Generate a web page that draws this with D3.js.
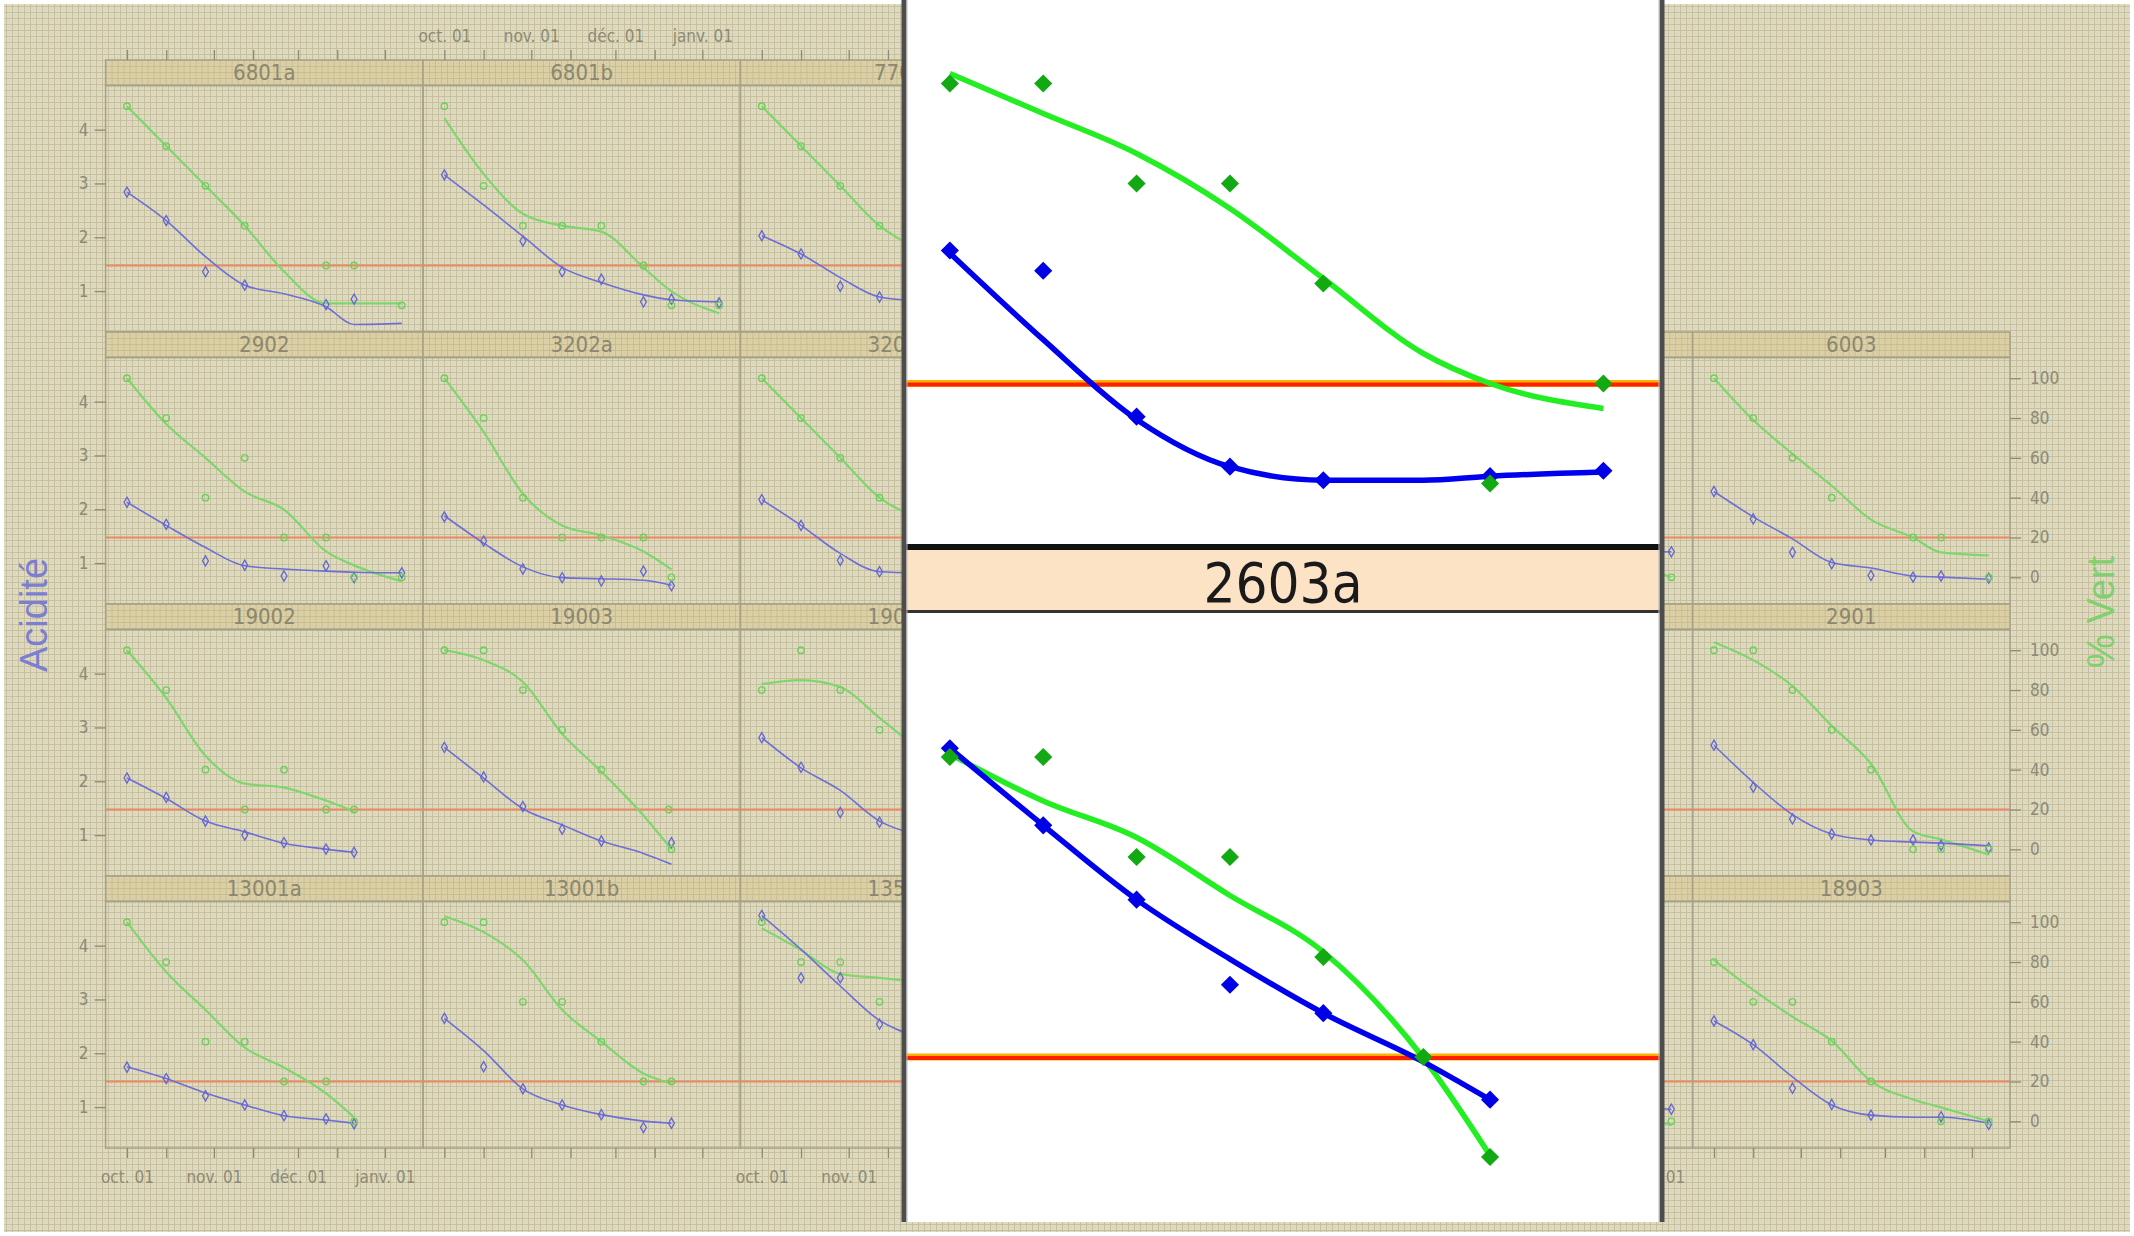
<!DOCTYPE html>
<html lang="fr">
<head>
<meta charset="UTF-8">
<title>Acidité et % Vert par parcelle</title>
<script src="https://d3js.org/d3.v7.min.js"></script>
<style>
  body { margin: 0; background: #fff; }
  svg { display: block; }
  .narrow { font-family: "Liberation Sans Narrow", "Arial Narrow", "DejaVu Sans Condensed", sans-serif; }
</style>
</head>
<body>
<div id="chart"></div>
<script>
// ----- Data -----
const _ = null;
// sampling dates (index shared by every series below)
const sampleDates = ["2001-10-01", "2001-10-15", "2001-10-29", "2001-11-12", "2001-11-26",
                     "2001-12-11", "2001-12-20", "2001-12-21", "2002-01-07"];

// lattice layout, top row first (null = empty cell)
const panelGrid = [
  ["6801a", "6801b", "7701", "7702", _, _],
  ["2902", "3202a", "3202b", "2602", "5901", "6003"],
  ["19002", "19003", "19004", "2603a", "5902", "2901"],
  ["13001a", "13001b", "13502", "2603b", "5903", "18903"]
];

// % vert observed (green)
const vertPoints = {
  "6801a": [100, 80, 60, 40, _, 20, _, 20, 0],
  "6801b": [100, 60, 40, 40, 40, 20, _, 0, 0],
  "7701": [100, 80, 60, 40],
  "2902": [100, 80, 40, 60, 20, 20, _, 0, 0],
  "3202a": [100, 80, 40, 20, 20, 20, _, 0],
  "3202b": [100, 80, 60, 40],
  "2602": [80, 80, 60, 60, 40, _, _, 0, 20],
  "5901": [_, _, _, _, _, _, _, _, 0],
  "6003": [100, 80, 60, 40, _, 20, _, 20, 0],
  "19002": [100, 80, 40, 20, 40, 20, _, 20],
  "19003": [100, 100, 80, 60, 40, _, 20, 0],
  "19004": [80, 100, 80, 60],
  "2603a": [80, 80, 60, 60, 40, 20, _, 0],
  "2901": [100, 100, 80, 60, 40, 0, _, 0, 0],
  "13001a": [100, 80, 40, 40, 20, 20, _, 0],
  "13001b": [100, 100, 60, 60, 40, 20, _, 20],
  "13502": [100, 80, 80, 60],
  "5903": [_, _, _, _, _, _, _, _, 0],
  "18903": [80, 60, 60, 40, 20, _, _, 0, 0]
};

// % vert smoothed
const vertFit = {
  "6801a": [100, 80, 60, 40, 17, 1, _, 1, 1],
  "6801b": [94, 66, 46, 40, 37, 19, _, 7, -4],
  "7701": [100, 80, 60, 40, 28],
  "2902": [100, 77, 60, 43, 34, 13, _, 6, -2],
  "3202a": [100, 73, 42, 26, 21, 13, _, 4],
  "3202b": [100, 80, 60, 40, 30],
  "2602": [82, 74, 66, 55, 41, 26, _, 20, 15],
  "5901": [_, _, _, _, _, _, _, 8, 0],
  "6003": [100, 79, 62, 46, 29, 20, _, 12.5, 11],
  "19002": [100, 76, 47, 33, 31, 24.5, _, 19],
  "19003": [100, 95, 84, 58, 39, 17, _, 0],
  "19004": [83, 85, 81.5, 66, 50],
  "2603a": [80.6, 71.2, 63.9, 52.3, 41, 19.8, _, 0.3],
  "2901": [104, 95, 82, 62, 43, 9, _, 5, -2.7],
  "13001a": [100, 75, 56, 37, 27, 14, _, 2],
  "13001b": [103, 95, 81, 56, 40, 24, _, 19],
  "13502": [97, 86, 74, 72, 70],
  "5903": [_, _, _, _, _, _, _, 5, -2],
  "18903": [81, 66, 52.5, 40.4, 20.2, 11, _, 7, 0]
};

// acidité observed (blue)
const acidPoints = {
  "6801a": [2.84, 2.31, 1.36, 1.11, _, 0.75, _, 0.85],
  "6801b": [3.16, _, 1.93, 1.36, 1.22, 0.80, _, 0.85, 0.78],
  "7701": [2.03, 1.69, 1.09, 0.89],
  "2902": [2.13, 1.72, 1.04, 0.96, 0.76, 0.95, _, 0.73, 0.82],
  "3202a": [1.86, 1.41, 0.89, 0.73, 0.67, 0.85, _, 0.58],
  "3202b": [2.18, 1.70, 1.05, 0.84],
  "2602": [2.46, 2.31, 1.23, 0.86, 0.76, _, _, 0.79, 0.83],
  "5901": [_, _, _, _, _, _, _, _, 1.21],
  "6003": [2.33, 1.82, 1.20, 0.99, 0.77, 0.74, _, 0.76, 0.72],
  "19002": [2.06, 1.70, 1.26, 1.00, 0.86, 0.74, _, 0.68],
  "19003": [2.63, 2.08, 1.53, 1.11, 0.89, _, _, 0.86],
  "19004": [2.81, 2.26, 1.42, 1.24],
  "2603a": [3.76, 3.19, 2.64, 2.01, 1.80, _, _, 1.16],
  "2901": [2.67, 1.89, 1.30, 1.02, 0.91, 0.91, _, 0.81, 0.76],
  "13001a": [1.74, 1.53, 1.21, 1.04, 0.84, 0.78, _, 0.69],
  "13001b": [2.65, 1.75, 1.34, 1.04, 0.86, 0.62, _, 0.70],
  "13502": [4.56, 3.40, 3.40, 2.54],
  "5903": [_, _, _, _, _, _, _, _, 0.96],
  "18903": [2.60, 2.16, 1.35, 1.05, 0.85, _, _, 0.82, 0.68]
};

// acidité smoothed
const acidFit = {
  "6801a": [2.84, 2.31, 1.64, 1.11, 0.95, 0.71, _, 0.38, 0.40],
  "6801b": [3.16, 2.60, 2.02, 1.44, 1.16, 0.93, _, 0.84, 0.80],
  "7701": [2.03, 1.69, 1.25, 0.89, 0.82],
  "2902": [2.13, 1.70, 1.29, 0.95, 0.89, 0.85, _, 0.83, 0.82],
  "3202a": [1.88, 1.37, 0.93, 0.73, 0.71, 0.68, _, 0.59],
  "3202b": [2.18, 1.70, 1.18, 0.84, 0.82],
  "2602": [2.44, 1.80, 1.21, 0.86, 0.76, 0.76, _, 0.79, 0.82],
  "5901": [_, _, _, _, _, _, _, 1.20, 1.21],
  "6003": [2.33, 1.86, 1.45, 1.01, 0.91, 0.76, _, 0.74, 0.70],
  "19002": [2.06, 1.68, 1.26, 1.06, 0.85, 0.74, _, 0.68],
  "19003": [2.63, 2.06, 1.49, 1.19, 0.89, 0.66, _, 0.46],
  "19004": [2.81, 2.25, 1.83, 1.26, 1.00],
  "2603a": [3.76, 3.19, 2.64, 2.20, 1.80, 1.44, _, 1.16],
  "2901": [2.67, 1.98, 1.38, 1.02, 0.91, 0.87, _, 0.85, 0.80],
  "13001a": [1.75, 1.53, 1.26, 1.04, 0.84, 0.76, _, 0.70],
  "13001b": [2.65, 2.05, 1.34, 1.04, 0.86, 0.74, _, 0.70],
  "13502": [4.56, 3.93, 3.25, 2.61, 2.30],
  "5903": [_, _, _, _, _, _, _, 1.00, 0.96],
  "18903": [2.60, 2.16, 1.56, 1.04, 0.85, 0.81, _, 0.81, 0.70]
};

const seuilVert = 20;
const acidTicks = [1, 2, 3, 4];
const vertTicks = [0, 20, 40, 60, 80, 100];
const tickDates = ["2001-10-01", "2001-10-15", "2001-11-01", "2001-11-15", "2001-12-01", "2001-12-15", "2002-01-01"];
const tickLabels = ["oct. 01", "", "nov. 01", "", "déc. 01", "", "janv. 01"];
const zoomPanels = ["2602", "2603a"]; // panels shown in the magnifier

// ----- Setup -----
const W = 2134, H = 1236;
const colLeft = 105.6, colW = 317.4, rowTop = 60, rowH = 272, stripH = 25.5;
const plotH = rowH - stripH;
const axisCol = "#8e8a76", borderCol = "#a7a186";
const magL = 904, magR = 1662, magB = 1222;

const parse = d3.timeParse("%Y-%m-%d");
const dates = sampleDates.map(parse);
const tDates = tickDates.map(parse);
const xDomain = [new Date(2001, 8, 23, 9), new Date(2002, 0, 14, 14)];

const svg = d3.select("#chart").append("svg").attr("width", W).attr("height", H);
const defs = svg.append("defs");

function texture(id, base, line) {
  const p = defs.append("pattern").attr("id", id).attr("patternUnits", "userSpaceOnUse")
    .attr("width", 6).attr("height", 6);
  p.append("rect").attr("width", 6).attr("height", 6).attr("fill", base);
  p.append("path").attr("d", "M0,0.5H6M0.5,0V6").attr("stroke", line).attr("stroke-width", 1);
  p.append("rect").attr("x", 3).attr("y", 3).attr("width", 1).attr("height", 1).attr("fill", line).attr("opacity", 0.6);
}
texture("bgTex", "#dfdbc3", "#c6c09d");
texture("stripTex", "#dcd0a7", "#c8bc91");

svg.append("rect").attr("x", 4).attr("y", 4).attr("width", W - 8).attr("height", H - 8)
  .attr("fill", "url(#bgTex)");

function series(name, dict) {
  const vals = dict[name] || [];
  return dates.map((d, i) => ({ date: d, v: vals[i] })).filter(p => p.v != null);
}

// ----- Small panels -----
const x = d3.scaleTime().domain(xDomain).range([0, colW]);
const vertY = d3.scaleLinear().domain([-13.4, 110.4]).range([plotH, 0]);
const acidY = d3.scaleLinear().domain([0.24, 4.82]).range([plotH, 0]);

panelGrid.forEach((row, r) => {
  row.forEach((name, c) => {
    if (!name) return;
    const x0 = colLeft + c * colW;
    const g = svg.append("g").attr("transform", `translate(${x0},${rowTop + r * rowH})`);
    g.append("rect").attr("width", colW).attr("height", stripH)
      .attr("fill", "url(#stripTex)").attr("stroke", borderCol).attr("stroke-width", 1.5);
    // strip labels lying entirely under the magnifier are not drawn
    const cx = x0 + colW / 2;
    if (!(cx - 40 > magL && cx + 40 < magR)) {
      g.append("text").attr("class", "narrow").attr("x", colW / 2).attr("y", stripH / 2 + 7.5)
        .attr("text-anchor", "middle").attr("font-size", 22).attr("fill", "#8b8770").text(name);
    }

    const clipId = `clip-${r}-${c}`;
    defs.append("clipPath").attr("id", clipId).append("rect").attr("width", colW).attr("height", plotH);
    const p = g.append("g").attr("transform", `translate(0,${stripH})`).attr("clip-path", `url(#${clipId})`);

    p.append("line").attr("x1", 0).attr("x2", colW)
      .attr("y1", vertY(seuilVert)).attr("y2", vertY(seuilVert))
      .attr("stroke", "#e98a62").attr("stroke-width", 2);

    const gLine = d3.line().x(d => x(d.date)).y(d => vertY(d.v)).curve(d3.curveMonotoneX);
    const aLine = d3.line().x(d => x(d.date)).y(d => acidY(d.v)).curve(d3.curveMonotoneX);

    p.append("path").datum(series(name, vertFit)).attr("d", gLine)
      .attr("fill", "none").attr("stroke", "#7fd66d").attr("stroke-width", 2.2);
    p.append("path").datum(series(name, acidFit)).attr("d", aLine)
      .attr("fill", "none").attr("stroke", "#6d6ed6").attr("stroke-width", 1.6);

    p.selectAll(".pa").data(series(name, acidPoints)).join("path")
      .attr("transform", d => `translate(${x(d.date)},${acidY(d.v)})`)
      .attr("d", d3.symbol(d3.symbolDiamond, 30))
      .attr("fill", "none").attr("stroke", "#6466d4").attr("stroke-width", 1.3);
    p.selectAll(".pv").data(series(name, vertPoints)).join("circle")
      .attr("cx", d => x(d.date)).attr("cy", d => vertY(d.v)).attr("r", 3.2)
      .attr("fill", "none").attr("stroke", "#6fcf5e").attr("stroke-width", 1.4);

    g.append("rect").attr("y", stripH).attr("width", colW).attr("height", plotH)
      .attr("fill", "none").attr("stroke", borderCol).attr("stroke-width", 1.5);
  });
});

// ----- Axes -----
function styleAxis(sel) {
  sel.select(".domain").remove();
  sel.selectAll(".tick line").attr("stroke", axisCol).attr("stroke-width", 1.3);
  sel.selectAll(".tick text").attr("class", "narrow").attr("fill", axisCol).attr("font-size", 17);
}

panelGrid.forEach((row, r) => {
  const top = rowTop + r * rowH + stripH;
  svg.append("g").attr("transform", `translate(${colLeft},${top})`)
    .call(d3.axisLeft(acidY).tickValues(acidTicks).tickFormat(d3.format("d")).tickSize(11).tickPadding(6))
    .call(styleAxis);
  if (row[5]) {
    svg.append("g").attr("transform", `translate(${colLeft + 6 * colW},${top})`)
      .call(d3.axisRight(vertY).tickValues(vertTicks).tickFormat(d3.format("d")).tickSize(11).tickPadding(9))
      .call(styleAxis);
  }
});

panelGrid[0].forEach((name, c) => {
  if (!name) return;
  svg.append("g").attr("transform", `translate(${colLeft + c * colW},${rowTop})`)
    .call(d3.axisTop(x).tickValues(tDates).tickSize(10).tickPadding(8)
      .tickFormat((d, i) => c % 2 === 1 ? tickLabels[i] : ""))
    .call(styleAxis);
});

for (let c = 0; c < 6; c++) {
  svg.append("g").attr("transform", `translate(${colLeft + c * colW},${rowTop + 4 * rowH})`)
    .call(d3.axisBottom(x).tickValues(tDates).tickSize(10).tickPadding(13)
      .tickFormat((d, i) => c % 2 === 0 ? tickLabels[i] : ""))
    .call(styleAxis);
}

svg.append("text").attr("transform", "translate(47,615) rotate(-90)")
  .attr("text-anchor", "middle").attr("font-family", "Liberation Sans, Arial, sans-serif")
  .attr("font-size", 38).attr("fill", "#7c7ecf").text("Acidité");
svg.append("text").attr("transform", "translate(2114,612) rotate(-90)")
  .attr("text-anchor", "middle").attr("font-family", "Liberation Sans, Arial, sans-serif")
  .attr("font-size", 38).attr("fill", "#80d06e").text("% Vert");

// ----- Magnifier -----
const mag = svg.append("g");
mag.append("rect").attr("x", magL).attr("y", 0).attr("width", magR - magL).attr("height", magB).attr("fill", "#fff");

const xM = d3.scaleTime().domain(xDomain).range([899, 1654]);
const zoomBoxes = [
  { name: zoomPanels[0], top: 0, bottom: 544, base: 550.5 },
  { name: zoomPanels[1], top: 613, bottom: magB, base: 1224 }
];

zoomBoxes.forEach((b, i) => {
  const vY = d3.scaleLinear().domain([-13.4, 110.4]).range([b.base, b.base - 123.8 * 5]);
  const aY = d3.scaleLinear().domain([0.24, 4.82]).range([b.base, b.base - 123.8 * 5]);
  const clipId = `clip-mag-${i}`;
  defs.append("clipPath").attr("id", clipId).append("rect")
    .attr("x", magL).attr("y", b.top).attr("width", magR - magL).attr("height", b.bottom - b.top);
  const p = mag.append("g").attr("clip-path", `url(#${clipId})`);

  p.append("line").attr("x1", magL).attr("x2", magR)
    .attr("y1", vY(seuilVert)).attr("y2", vY(seuilVert))
    .attr("stroke", "#ffb000").attr("stroke-width", 7);
  p.append("line").attr("x1", magL).attr("x2", magR)
    .attr("y1", vY(seuilVert) + 1).attr("y2", vY(seuilVert) + 1)
    .attr("stroke", "#ff2000").attr("stroke-width", 4);

  p.append("path").datum(series(b.name, vertFit))
    .attr("d", d3.line().x(d => xM(d.date)).y(d => vY(d.v)).curve(d3.curveMonotoneX))
    .attr("fill", "none").attr("stroke", "#22ee22").attr("stroke-width", 5.5);
  p.append("path").datum(series(b.name, acidFit))
    .attr("d", d3.line().x(d => xM(d.date)).y(d => aY(d.v)).curve(d3.curveMonotoneX))
    .attr("fill", "none").attr("stroke", "#0000ee").attr("stroke-width", 5.5);

  p.selectAll(".ma").data(series(b.name, acidPoints)).join("path")
    .attr("transform", d => `translate(${xM(d.date)},${aY(d.v)}) rotate(45)`)
    .attr("d", d3.symbol(d3.symbolSquare, 165)).attr("fill", "#0000e6");
  p.selectAll(".mv").data(series(b.name, vertPoints)).join("path")
    .attr("transform", d => `translate(${xM(d.date)},${vY(d.v)}) rotate(45)`)
    .attr("d", d3.symbol(d3.symbolSquare, 165)).attr("fill", "#13a913");
});

// strip of the magnified panel
mag.append("rect").attr("x", magL).attr("y", 544).attr("width", magR - magL).attr("height", 6).attr("fill", "#111");
mag.append("rect").attr("x", magL).attr("y", 550).attr("width", magR - magL).attr("height", 60).attr("fill", "#fde3c6");
mag.append("rect").attr("x", magL).attr("y", 610).attr("width", magR - magL).attr("height", 3).attr("fill", "#333");
mag.append("text").attr("class", "narrow").attr("x", (magL + magR) / 2).attr("y", 602)
  .attr("text-anchor", "middle").attr("font-size", 56).attr("fill", "#1a1a1a").text(zoomPanels[1]);

[magL, magR].forEach(xx => {
  mag.append("line").attr("x1", xx).attr("x2", xx).attr("y1", 0).attr("y2", magB)
    .attr("stroke", "#4d4d4d").attr("stroke-width", 5);
  mag.append("line").attr("x1", xx + (xx === magL ? 3 : -3)).attr("x2", xx + (xx === magL ? 3 : -3))
    .attr("y1", 0).attr("y2", magB).attr("stroke", "#bbb").attr("stroke-width", 1);
});
</script>
</body>
</html>
